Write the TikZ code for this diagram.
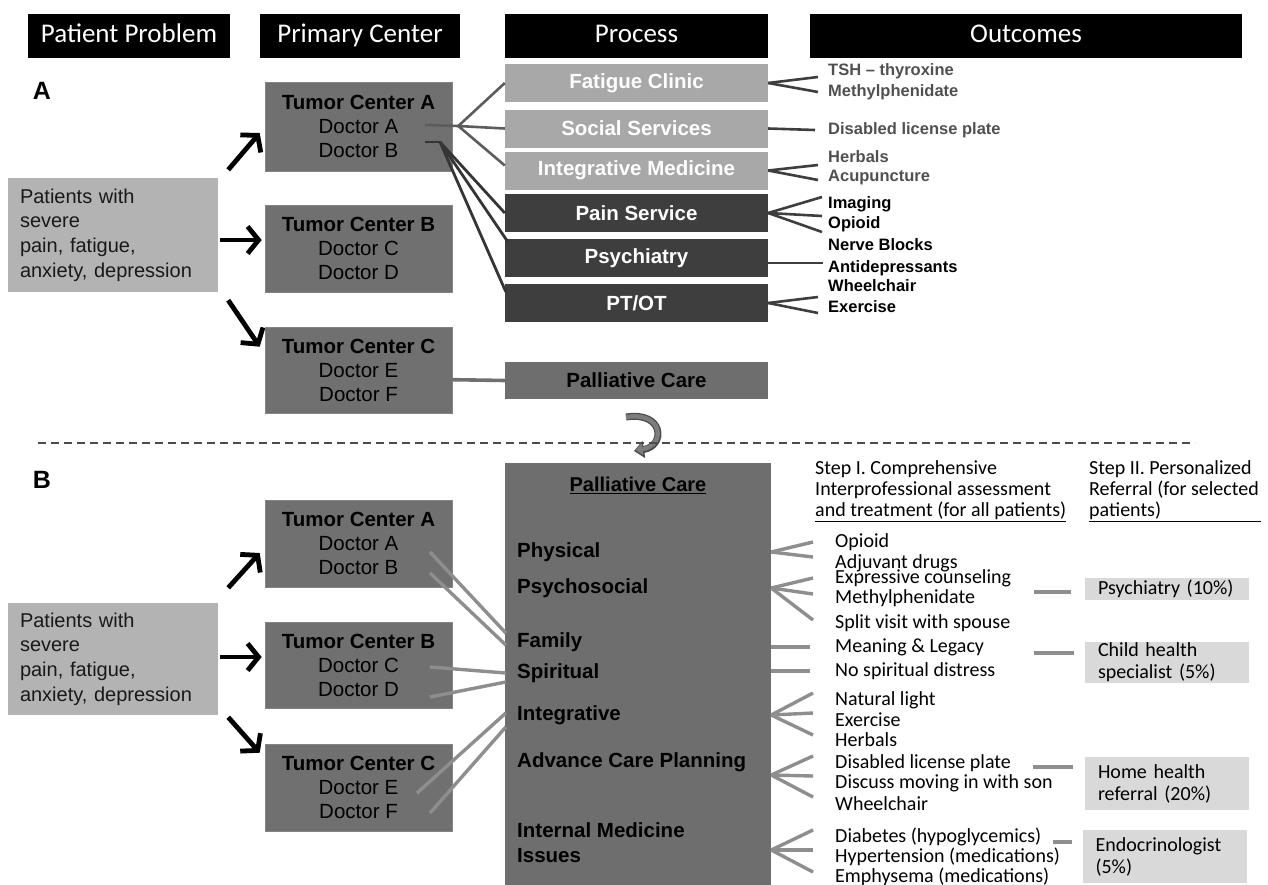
\documentclass[tikz,border=0pt]{standalone}
\usepackage{fontspec}
\setmainfont{Liberation Sans}
\newfontfamily\narrowfont{Carlito}
\usetikzlibrary{calc,arrows.meta,positioning}
\definecolor{tumorGrey}{RGB}{112,112,112}
\definecolor{patientGrey}{RGB}{179,179,179}
\definecolor{procLight}{RGB}{168,168,168}
\definecolor{procDark}{RGB}{62,62,62}
\definecolor{palGrey}{RGB}{110,110,110}
\definecolor{refGrey}{RGB}{217,217,217}
\definecolor{linkGrey}{RGB}{142,142,142}
\definecolor{linkMid}{RGB}{92,92,92}
\definecolor{outGrey}{RGB}{80,80,80}
\definecolor{curlGrey}{RGB}{125,125,125}
\newcommand{\fsz}[2]{\fontsize{#1}{#2}\selectfont}

\begin{document}
\begin{tikzpicture}[x=1pt,y=-1pt,line cap=butt,
  headbox/.style={fill=black,text=white,font=\narrowfont\fsz{27}{30},minimum height=44pt,inner sep=0pt,text height=19pt,text depth=6pt},
  panel/.style={font=\bfseries\fsz{25}{25},inner sep=0pt},
  patbox/.style={fill=patientGrey,text=black!90,minimum width=210pt,text width=186pt,align=left,font=\fsz{20}{24.7},inner sep=0pt},
  tumorbox/.style={fill=tumorGrey,draw=tumorGrey!85!white,line width=0.6pt,minimum width=187pt,align=center,font=\fsz{20.5}{24},inner sep=0pt},
  proclight/.style={fill=procLight,text=white,minimum width=263pt,minimum height=38pt,inner sep=0pt,font=\bfseries\fsz{20.5}{22}},
  procdark/.style={proclight,fill=procDark},
  palbox/.style={fill=palGrey,inner sep=0pt,font=\bfseries\fsz{20.5}{22}},
  outA/.style={anchor=west,inner sep=0pt,font=\bfseries\fsz{16.5}{18}},
  dom/.style={anchor=west,inner sep=0pt,align=left,font=\bfseries\fsz{20.5}{25}},
  stephead/.style={anchor=west,inner sep=0pt,align=left,font=\narrowfont\fsz{20}{21}},
  outB/.style={anchor=west,inner sep=0pt,font=\narrowfont\fsz{20}{21}},
  refbox/.style={fill=refGrey,minimum width=164pt,text width=138pt,align=left,inner sep=0pt,font=\narrowfont\fsz{20}{22}},
  fatarrow/.style={line width=4.8pt,-{Straight Barb[length=11pt,width=27pt]}},
  fanA/.style={draw=procDark,line width=2.6pt},
  linkA/.style={draw=linkMid,line width=2.6pt},
  linkDark/.style={draw=procDark!85!black,line width=2.8pt},
  fanB/.style={draw=linkGrey,line width=3.4pt},
  refline/.style={draw=linkGrey,line width=3.4pt}]
\useasboundingbox (0,0) rectangle (1268,884);

% column headers
\node[headbox,minimum width=202pt] (hPat) at (129,36) {Patient Problem};
\node[headbox,minimum width=200pt] (hPri) at (360,36) {Primary Center};
\node[headbox,minimum width=263pt] (hProc) at (636.5,36) {Process};
\node[headbox,minimum width=432pt] (hOut) at (1026,36) {Outcomes};

% ---------------- panel A : referral by each tumor center ----------------
\node[panel] (labA) at (42,91) {A};
\node[patbox,minimum height=114pt] (patA) at (113,235) {Patients with\\severe\\pain, fatigue,\\anxiety,  depression};
\node[tumorbox,minimum height=89pt] (tcA) at (358.5,126.5) {\textbf{Tumor Center A}\\Doctor A\\Doctor B};
\node[tumorbox,minimum height=87pt] (tcB) at (358.5,248.5) {\textbf{Tumor Center B}\\Doctor C\\Doctor D};
\node[tumorbox,minimum height=86pt] (tcC) at (358.5,370) {\textbf{Tumor Center C}\\Doctor E\\Doctor F};

\draw[fatarrow] ([shift={(10,-8)}]patA.north east) -- ([shift={(-5,6.5)}]tcA.west);
\draw[fatarrow] ([shift={(2,5)}]patA.east) -- ([shift={(-3,-8.5)}]tcB.west);
\draw[fatarrow] ([shift={(10,8)}]patA.south east) -- ([shift={(-5,20)}]tcC.north west);

\node[proclight] (fatigue) at (636.5,83) {Fatigue Clinic};
\node[proclight] (social) at (636.5,128.5) {Social Services};
\node[proclight] (integ) at (636.5,170.5) {Integrative Medicine};
\node[procdark] (pain) at (636.5,213) {Pain Service};
\node[procdark] (psych) at (636.5,258) {Psychiatry};
\node[procdark] (ptot) at (636.5,303) {PT/OT};
\node[palbox,minimum width=263pt,minimum height=37pt] (palA) at (636.5,380.5) {Palliative Care};

% outcomes of panel A
\node[outA,text=outGrey] (tsh) at (828,71) {TSH – thyroxine};
\node[outA,text=outGrey] (meth) at (828,92) {Methylphenidate};
\node[outA,text=outGrey] (plate) at (828,130) {Disabled license plate};
\node[outA,text=outGrey] (herbals) at (828,157) {Herbals};
\node[outA,text=outGrey] (acup) at (828,178) {Acupuncture};
\node[outA] (imaging) at (828,204) {Imaging};
\node[outA] (opioid) at (828,224) {Opioid};
\node[outA] (nerve) at (828,245) {Nerve Blocks};
\node[outA] (antidep) at (828,268) {Antidepressants};
\node[outA] (wheel) at (828,286) {Wheelchair};
\node[outA] (exer) at (828,307) {Exercise};

% doctors send the patient to each service separately
\coordinate (docA) at ([shift={(66.5,-1.5)}]tcA.center);
\coordinate (hubA) at ([shift={(6,-0.5)}]tcA.east);
\coordinate (docB) at ([shift={(66.5,15.5)}]tcA.center);
\coordinate (hubB) at ([shift={(81.5,15.5)}]tcA.center);
\coordinate (docE) at ([shift={(51.5,9)}]tcC.center);
\draw[linkA] (docA) -- (hubA);
\draw[linkA] (hubA) -- (fatigue.west);
\draw[linkA] (hubA) -- (social.west);
\draw[linkA] (hubA) -- ([shift={(0,-5)}]integ.west);
\draw[linkDark] (docB) -- (hubB);
\draw[linkDark] (hubB) -- (pain.west);
\draw[linkDark] (hubB) -- ([shift={(3,3)}]psych.north west);
\draw[linkDark] (hubB) -- ([shift={(1,8)}]ptot.north west);
\draw[draw=tumorGrey,line width=3.6pt] (docE) -- (palA.west);

\draw[fanA] (fatigue.east) -- ([shift={(-10,6)}]tsh.west);
\draw[fanA] (fatigue.east) -- ([xshift=-10pt]meth.west);
\draw[fanA] (social.east) -- ([xshift=-13pt]plate.west);
\draw[fanA] (integ.east) -- ([shift={(-10,8)}]herbals.west);
\draw[fanA] (integ.east) -- ([shift={(-10,2)}]acup.west);
\draw[fanA] (pain.east) -- ([shift={(-6,-7)}]imaging.west);
\draw[fanA] (pain.east) -- ([shift={(-6,-8)}]opioid.west);
\draw[fanA] (pain.east) -- ([shift={(-6,-13)}]nerve.west);
\draw[fanA] ([yshift=-5pt]psych.east) -- ([shift={(-5,-5)}]antidep.west);
\draw[fanA] (ptot.east) -- ([shift={(-10,11)}]wheel.west);
\draw[fanA] (ptot.east) -- ([shift={(-10,6)}]exer.west);

% curled block arrow over the separator
\coordinate (curlS) at (626,417);
\coordinate (curlE) at (634,451);
\draw[draw=black!70,line width=7pt,-{Triangle[width=17pt,length=10pt]}] (curlS) .. controls (664,411) and (666,446) .. (curlE);
\draw[draw=curlGrey,line width=4.4pt,-{Triangle[width=12pt,length=7pt]}] (curlS) .. controls (664,411) and (666,446) .. ([shift={(1.5,-1)}]curlE);
\coordinate (sepL) at (38,443);
\coordinate (sepR) at (1195,443);
\draw[gray!60!black,line width=1.5pt,dash pattern=on 8pt off 5pt] (sepL) -- (sepR);

% ---------------- panel B : one palliative care team ----------------
\node[panel] (labB) at (42,480) {B};
\node[patbox,minimum height=112pt] (patB) at (113,659) {Patients with\\severe\\pain, fatigue,\\anxiety,  depression};
\node[tumorbox,minimum height=87pt] (tcA2) at (358.5,543.5) {\textbf{Tumor Center A}\\Doctor A\\Doctor B};
\node[tumorbox,minimum height=86pt] (tcB2) at (358.5,665) {\textbf{Tumor Center B}\\Doctor C\\Doctor D};
\node[tumorbox,minimum height=87pt] (tcC2) at (358.5,787.5) {\textbf{Tumor Center C}\\Doctor E\\Doctor F};

\draw[fatarrow] ([shift={(10,-15)}]patB.north east) -- ([shift={(-5,9.5)}]tcA2.west);
\draw[fatarrow] ([shift={(2,-2)}]patB.east) -- ([shift={(-3,-8)}]tcB2.west);
\draw[fatarrow] ([shift={(10,2)}]patB.south east) -- ([shift={(-5,9)}]tcC2.north west);

\node[palbox,minimum width=266pt,minimum height=437pt] (palB) at (638,681.5) {};
\node[font=\bfseries\fsz{20}{22},inner sep=0pt] (palTitle) at (638,485) {\underline{Palliative Care}};
\node[dom] (phys) at (517,552) {Physical};
\node[dom] (psyc) at (517,588) {Psychosocial};
\node[dom] (fam) at (517,642) {Family};
\node[dom] (spir) at (517,673) {Spiritual};
\node[dom] (integB) at (517,715) {Integrative};
\node[dom] (acp) at (517,762) {Advance Care Planning};
\node[dom] (intmed) at (517,842.5) {Internal Medicine\\Issues};

\draw[fanB] ([shift={(71.5,8.5)}]tcA2.center) -- ([shift={(1,-48.5)}]palB.west);
\draw[fanB] ([shift={(71.5,29.5)}]tcA2.center) -- ([shift={(1,-36.5)}]palB.west);
\draw[fanB] ([shift={(71.5,2)}]tcB2.center) -- ([shift={(1,-8.5)}]palB.west);
\draw[fanB] ([shift={(71.5,32)}]tcB2.center) -- ([shift={(1,0.5)}]palB.west);
\draw[fanB] ([shift={(58.5,5.5)}]tcC2.center) -- ([shift={(1,31.5)}]palB.west);
\draw[fanB] ([shift={(71.5,25.5)}]tcC2.center) -- ([shift={(1,45.5)}]palB.west);

\node[stephead] (stepI) at (815,491) {Step I. Comprehensive\\Interprofessional assessment\\\underline{and treatment (for all patients)}};
\node[stephead] (stepII) at (1089,491) {Step II. Personalized\\Referral (for selected\\\underline{\makebox[172pt][l]{patients)}}};

% outcomes of panel B
\node[outB] (opB) at (835,542) {Opioid};
\node[outB] (adjB) at (835,563) {Adjuvant drugs};
\node[outB] (exprB) at (835,578) {Expressive counseling};
\node[outB] (methB) at (835,598) {Methylphenidate};
\node[outB] (splitB) at (835,623) {Split visit with spouse};
\node[outB] (meanB) at (835,647) {Meaning \& Legacy};
\node[outB] (nospB) at (835,671) {No spiritual distress};
\node[outB] (natB) at (835,700) {Natural light};
\node[outB] (exB) at (835,720) {Exercise};
\node[outB] (herbB) at (835,740) {Herbals};
\node[outB] (plateB) at (835,763) {Disabled license plate};
\node[outB] (discB) at (835,783) {Discuss  moving in with son};
\node[outB] (wheelB) at (835,804) {Wheelchair};
\node[outB] (diabB) at (835,837) {Diabetes (hypoglycemics)};
\node[outB] (hypB) at (835,857) {Hypertension  (medications)};
\node[outB] (emphB) at (835,877) {Emphysema (medications)};

\draw[fanB] (palB.east |- phys) -- ([xshift=-22pt]opB.west);
\draw[fanB] (palB.east |- phys) -- ([shift={(-22,-6)}]adjB.west);
\draw[fanB] (palB.east |- psyc) -- ([xshift=-22pt]exprB.west);
\draw[fanB] (palB.east |- psyc) -- ([shift={(-22,-4)}]methB.west);
\draw[fanB] (palB.east |- psyc) -- ([shift={(-22,-3)}]splitB.west);
\draw[fanB] (palB.east |- meanB) -- ([xshift=-25pt]meanB.west);
\draw[fanB] (palB.east |- nospB) -- ([xshift=-25pt]nospB.west);
\draw[fanB] (palB.east |- integB) -- ([shift={(-22,-7)}]natB.west);
\draw[fanB] (palB.east |- integB) -- ([shift={(-22,-7)}]exB.west);
\draw[fanB] (palB.east |- integB) -- ([shift={(-22,-5)}]herbB.west);
\draw[fanB] ($(palB.east |- discB)+(0,-8)$) -- ([shift={(-22,-7)}]plateB.west);
\draw[fanB] ($(palB.east |- discB)+(0,-8)$) -- ([shift={(-22,-7)}]discB.west);
\draw[fanB] ($(palB.east |- discB)+(0,-8)$) -- ([shift={(-22,-7)}]wheelB.west);
\draw[fanB] ($(palB.east |- hypB)+(0,-7)$) -- ([shift={(-22,-7)}]diabB.west);
\draw[fanB] ($(palB.east |- hypB)+(0,-7)$) -- ([shift={(-22,-7)}]hypB.west);
\draw[fanB] ($(palB.east |- hypB)+(0,-7)$) -- ([shift={(-22,-5)}]emphB.west);

% step II referrals
\node[refbox,minimum height=22pt] (psyRef) at (1167,589) {Psychiatry (10\%)};
\node[refbox,minimum height=41pt] (childRef) at (1167,662.5) {Child health\\specialist (5\%)};
\node[refbox,minimum height=53pt] (homeRef) at (1167,783.5) {Home health\\referral  (20\%)};
\node[refbox,minimum height=53pt] (endoRef) at (1164.5,856.5) {Endocrinologist\\(5\%)};
\draw[refline] ([shift={(-14,3)}]psyRef.west) -- ++(-37,0);
\draw[refline] ([shift={(-11,-9.5)}]childRef.west) -- ++(-40,0);
\draw[refline] ([shift={(-12,-16.5)}]homeRef.west) -- ++(-40,0);
\draw[refline] ([shift={(-10,-14.5)}]endoRef.west) -- ++(-19,0);
\end{tikzpicture}
\end{document}
